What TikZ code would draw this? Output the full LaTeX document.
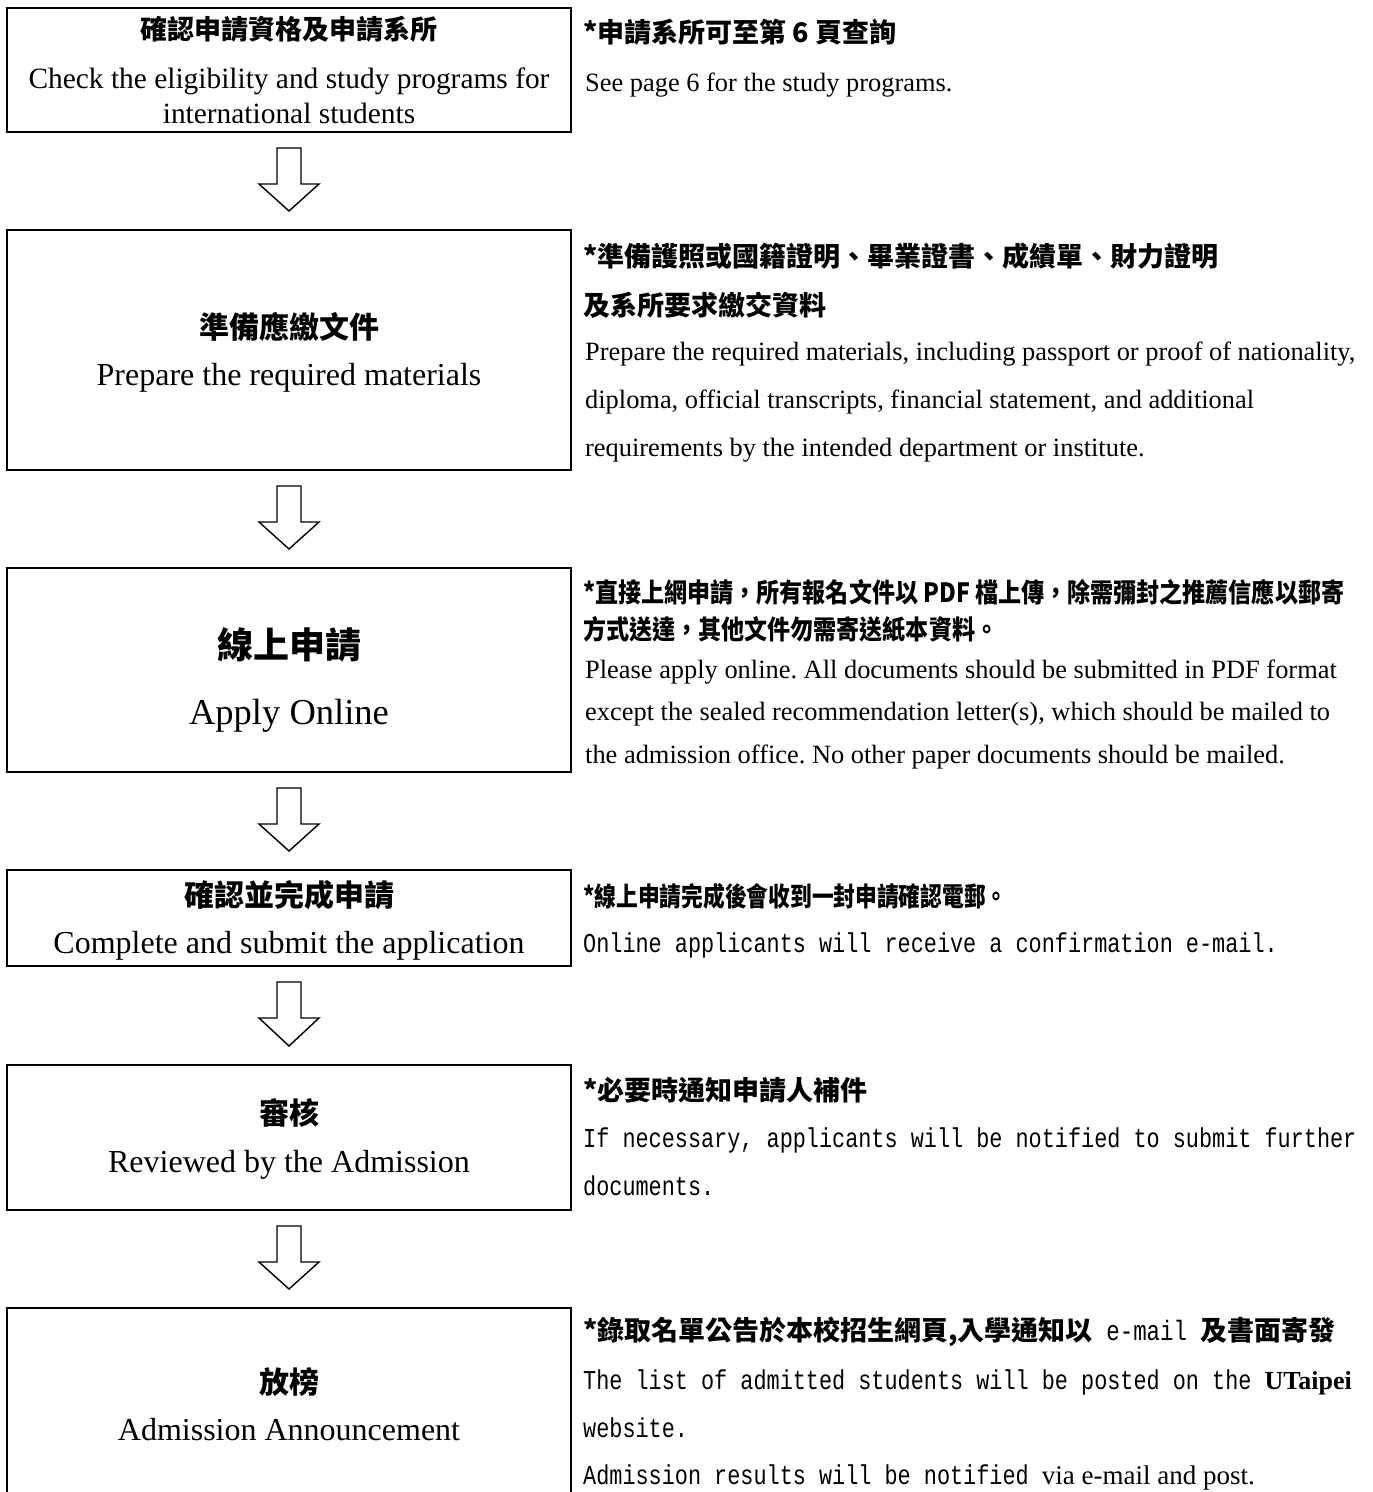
\documentclass[tikz,border=0pt]{standalone}
\usepackage{fontspec}
\setmainfont{Liberation Serif}
\newfontfamily\cjk{Noto Sans CJK TC}
\newfontfamily\cjkm[FakeStretch=0.87]{Noto Sans CJK TC}
\newfontfamily\cjkn[FakeStretch=0.82]{Noto Sans CJK TC}
\newfontfamily\mono[FakeStretch=0.8]{Liberation Mono}
\usetikzlibrary{calc}
\newcommand\fs[1]{\fontsize{#1}{#1}\selectfont}
\newcommand\flowarrow[2]{%
  \draw[blk] ($(#1.south)+(-12,15)$) -- ($(#1.south)+(12,15)$) -- ($(#1.south)+(12,51)$)
    -- ($(#1.south)+(30,51)$) -- ($(#2.north)+(0,-18)$) -- ($(#1.south)+(-30,51)$)
    -- ($(#1.south)+(-12,51)$) -- cycle;}
\tikzset{
  box/.style={draw, line width=2pt, minimum width=564pt, inner sep=0pt},
  ctr/.style={anchor=base, inner sep=0pt},
  note/.style={anchor=base west, inner sep=0pt},
  blk/.style={draw, line width=1.4pt, fill=white, line join=miter},
}
\begin{document}
\begin{tikzpicture}[x=1pt,y=-1pt]
\frenchspacing
\useasboundingbox (0,0) rectangle (1373,1492);
\clip (0,0) rectangle (1373,1492);
\fill[white] (0,0) rectangle (1373,1492);

% boxes
\node[box, minimum height=124pt] (b1) at (289,70) {};
\node[box, minimum height=240pt] (b2) at (289,350) {};
\node[box, minimum height=204pt] (b3) at (289,670) {};
\node[box, minimum height=96pt]  (b4) at (289,918) {};
\node[box, minimum height=145pt] (b5) at (289,1137.5) {};
\node[box, minimum height=212pt] (b6) at (289,1414) {};

% arrows
\flowarrow{b1}{b2}
\flowarrow{b2}{b3}
\flowarrow{b3}{b4}
\flowarrow{b4}{b5}
\flowarrow{b5}{b6}

% box texts
\node[ctr, font={\cjk\bfseries\fs{27}}] (t1) at (289,39) {確認申請資格及申請系所};
\node[ctr, font=\fs{29.4}] (e1a) at (289,88) {Check the eligibility and study programs for};
\node[ctr, font=\fs{29.4}] (e1b) at (289,123) {international students};

\node[ctr, font={\cjk\bfseries\fs{30}}] (t2) at (289,338) {準備應繳文件};
\node[ctr, font=\fs{32}] (e2) at (289,385) {Prepare the required materials};

\node[ctr, font={\cjk\bfseries\fs{36}}] (t3) at (289,658) {線上申請};
\node[ctr, font=\fs{36.5}] (e3) at (289,724) {Apply Online};

\node[ctr, font={\cjk\bfseries\fs{30}}] (t4) at (289,906) {確認並完成申請};
\node[ctr, font=\fs{32}] (e4) at (289,953) {Complete and submit the application};

\node[ctr, font={\cjk\bfseries\fs{30}}] (t5) at (289,1124) {審核};
\node[ctr, font=\fs{32}] (e5) at (289,1172) {Reviewed by the Admission};

\node[ctr, font={\cjk\bfseries\fs{30}}] (t6) at (289,1393) {放榜};
\node[ctr, font=\fs{32}] (e6) at (289,1440) {Admission Announcement};

% notes
\node[note, font={\cjk\bfseries\fs{27}}] (n1a) at (583,42) {*申請系所可至第 6 頁查詢};
\node[note, font=\fs{26.4}] (n1b) at (585,91) {See page 6 for the study programs.};

\node[note, font={\cjk\bfseries\fs{27}}] (n2a) at (583,266) {*準備護照或國籍證明、畢業證書、成績單、財力證明};
\node[note, font={\cjk\bfseries\fs{27}}] (n2b) at (583,315) {及系所要求繳交資料};
\node[note, font=\fs{26.4}] (n2c) at (585,360) {Prepare the required materials, including passport or proof of nationality,};
\node[note, font=\fs{26.4}] (n2d) at (585,408) {diploma, official transcripts, financial statement, and additional};
\node[note, font=\fs{26.4}] (n2e) at (585,456) {requirements by the intended department or institute.};

\node[note, font={\cjkm\bfseries\fs{26.5}}] (n3a) at (583,602) {*直接上網申請，所有報名文件以 PDF 檔上傳，除需彌封之推薦信應以郵寄};
\node[note, font={\cjkm\bfseries\fs{26.5}}] (n3b) at (583,639) {方式送達，其他文件勿需寄送紙本資料。};
\node[note, font=\fs{26.4}] (n3c) at (585,678) {Please apply online. All documents should be submitted in PDF format};
\node[note, font=\fs{26.4}] (n3d) at (585,720) {except the sealed recommendation letter(s), which should be mailed to};
\node[note, font=\fs{26.4}] (n3e) at (585,763) {the admission office. No other paper documents should be mailed.};

\node[note, font={\cjkn\bfseries\fs{26.5}}] (n4a) at (583,906) {*線上申請完成後會收到一封申請確認電郵。};
\node[note, font={\mono\fs{27.3}}] (n4b) at (583,952) {Online applicants will receive a confirmation e-mail.};

\node[note, font={\cjk\bfseries\fs{27}}] (n5a) at (583,1100) {*必要時通知申請人補件};
\node[note, font={\mono\fs{27.3}}] (n5b) at (583,1147) {If necessary, applicants will be notified to submit further};
\node[note, font={\mono\fs{27.3}}] (n5c) at (583,1195) {documents.};

\node[note, font={\cjk\bfseries\fs{27}}] (n6a) at (583,1340) {*錄取名單公告於本校招生網頁,入學通知以{\mono\mdseries\fs{28} e-mail }及書面寄發};
\node[note, font={\mono\fs{27.3}}] (n6b) at (583,1389) {The list of admitted students will be posted on the {\rmfamily\bfseries\fs{26}UTaipei}};
\node[note, font={\mono\fs{27.3}}] (n6c) at (583,1437) {website.};
\node[note, font={\mono\fs{27.3}}] (n6d) at (583,1484) {Admission results will be notified {\rmfamily\fs{27}via e-mail and post.}};
\end{tikzpicture}
\end{document}
